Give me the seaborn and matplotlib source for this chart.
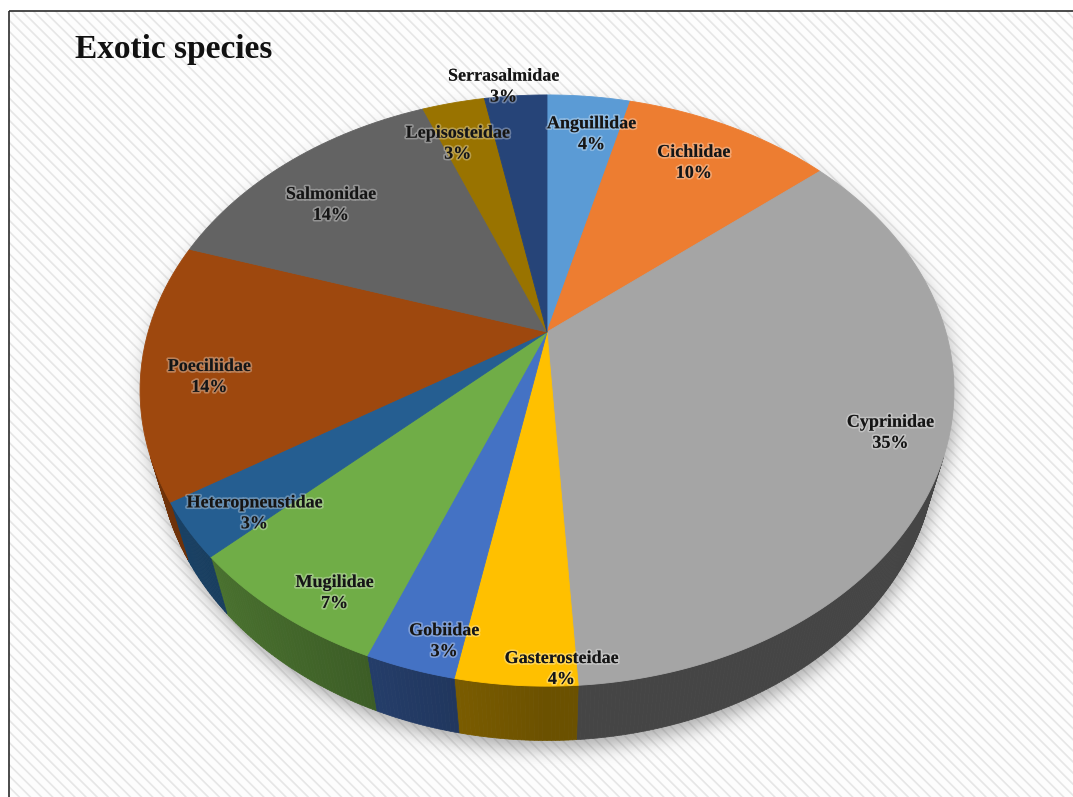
import numpy as np
import matplotlib
matplotlib.use("Agg")
import matplotlib.pyplot as plt
import seaborn as sns
from matplotlib.colors import to_rgb
from matplotlib.collections import PolyCollection
from matplotlib.patches import Polygon, Rectangle
from matplotlib.path import Path
import matplotlib.patheffects as pe

# ---- data -------------------------------------------------------------
families = ["Anguillidae", "Cichlidae", "Cyprinidae", "Gasterosteidae", "Gobiidae",
            "Mugilidae", "Heteropneustidae", "Poeciliidae", "Salmonidae",
            "Lepisosteidae", "Serrasalmidae"]
shares = [4, 10, 35, 4, 3, 7, 3, 14, 14, 3, 3]
pct_labels = [f"{v}%" for v in shares]

# ---- styling ----------------------------------------------------------
slice_colors = sns.color_palette(["#5B9BD5", "#ED7D31", "#A5A5A5", "#FFC000", "#4472C4",
                                  "#70AD47", "#255E91", "#9E480E", "#636363", "#997300",
                                  "#264478"])
# radial position of each label on the top face (fraction of the radius)
label_radius = [0.8, 0.8, 0.85, 0.93, 0.9, 0.85, 0.87, 0.85, 0.78, 0.8, 1.12]
# small pixel nudges applied after projecting the label anchor
label_nudge = [(10, -3), (-4, 0), (10, -2), (43, 14), (18, 13), (9, 29), (14, 12),
               (6, 14), (-11, 10), (-12, 1), (-9, 14)]

sns.set_theme(style="white")
plt.rcParams["font.family"] = ["Liberation Serif", "DejaVu Serif"]
plt.rcParams["hatch.linewidth"] = 1.2

W, H = 1073, 797
fig = plt.figure(figsize=(W / 100, H / 100), dpi=100)
ax = fig.add_axes([0, 0, 1, 1])

# ---- perspective camera for the 3-D pie -------------------------------
ELEV = np.deg2rad(45.4)
DIST = 3.545
FOCAL = 1414.0
CX, CY = 547.0, 332.0
THICK = 0.22
se, ce = np.sin(ELEV), np.cos(ELEV)


def project(x, y, z):
    depth = DIST + y * ce - z * se
    return CX + FOCAL * x / depth, CY - FOCAL * (y * se + z * ce) / depth


def convex_hull(points):
    pts = sorted(map(tuple, points))

    def cross(o, a, b):
        return (a[0] - o[0]) * (b[1] - o[1]) - (a[1] - o[1]) * (b[0] - o[0])

    lower, upper = [], []
    for q in pts:
        while len(lower) >= 2 and cross(lower[-2], lower[-1], q) <= 0:
            lower.pop()
        lower.append(q)
    for q in reversed(pts):
        while len(upper) >= 2 and cross(upper[-2], upper[-1], q) <= 0:
            upper.pop()
        upper.append(q)
    return np.array(lower[:-1] + upper[:-1])


# ---- background: hatched plot area with a frame -----------------------
ax.add_patch(Rectangle((8.5, 11), W, H, facecolor="#FDFDFD", edgecolor="#E6E6E6",
                       hatch="\\\\\\", linewidth=0, zorder=0))
ax.add_patch(Rectangle((8.5, 11), W, H, facecolor="none", edgecolor="#2b2b2b",
                       linewidth=1.2, zorder=6))

# ---- soft drop shadow under the pie -----------------------------------
ring = np.linspace(0, 2 * np.pi, 361)
tu, tv = project(np.sin(ring), np.cos(ring), 0)
bu, bv = project(np.sin(ring), np.cos(ring), -THICK)
outline = convex_hull(np.column_stack([np.r_[tu, bu], np.r_[tv, bv]]))
step = 2
GX, GY = np.meshgrid(np.arange(0, W, step) + 1.0, np.arange(0, H, step) + 1.0)
inside = Path(outline + np.array([3.0, 10.0])).contains_points(
    np.column_stack([GX.ravel(), GY.ravel()])).reshape(GX.shape).astype(float)
k = np.arange(-14, 15)
kern = np.exp(-0.5 * (k / 4.5) ** 2)
kern /= kern.sum()
blur = np.apply_along_axis(lambda r: np.convolve(r, kern, mode="same"), 1, inside)
blur = np.apply_along_axis(lambda c: np.convolve(c, kern, mode="same"), 0, blur)
shadow = np.zeros(blur.shape + (4,))
shadow[..., :3] = 0.3
shadow[..., 3] = 0.45 * blur
ax.imshow(shadow, extent=(0, W, H, 0), interpolation="bilinear", zorder=1)

# ---- slices: top faces and the visible outer walls ---------------------
edges = np.cumsum([0] + shares) / sum(shares) * 2 * np.pi
vis_limit = -1.0 / (DIST * ce)
wall_polys, wall_cols = [], []
for i, col in enumerate(slice_colors):
    a0, a1 = edges[i], edges[i + 1]
    n = max(int(np.degrees(a1 - a0) * 2), 4)
    t = np.linspace(a0, a1, n + 1)
    u, v = project(np.sin(t), np.cos(t), 0)
    top = np.column_stack([np.r_[CX, u], np.r_[CY, v]])
    ax.add_patch(Polygon(top, closed=True, facecolor=col, edgecolor=col,
                         linewidth=0.6, zorder=3))
    ub, vb = project(np.sin(t), np.cos(t), -THICK)
    for j in range(n):
        tm = 0.5 * (t[j] + t[j + 1])
        if np.cos(tm) < vis_limit:
            wall_polys.append([(u[j], v[j]), (u[j + 1], v[j + 1]),
                               (ub[j + 1], vb[j + 1]), (ub[j], vb[j])])
            shade = 0.42 + 0.32 * max(0.0, -np.sin(tm))
            wall_cols.append(np.array(to_rgb(col)) * shade)
ax.add_collection(PolyCollection(wall_polys, facecolors=wall_cols,
                                 edgecolors=wall_cols, linewidths=0.5, zorder=2))

# ---- data labels -------------------------------------------------------
for i in range(len(shares)):
    tm = 0.5 * (edges[i] + edges[i + 1])
    r = label_radius[i]
    lx, ly = project(r * np.sin(tm), r * np.cos(tm), 0)
    dx, dy = label_nudge[i]
    ax.text(lx + dx, ly + dy, f"{families[i]}\n{pct_labels[i]}", ha="center",
            va="center", fontsize=13, fontweight="bold", color="#151515",
            linespacing=1.3, zorder=5,
            path_effects=[pe.withStroke(linewidth=2.5, foreground=(1, 1, 1, 0.3))])

ax.text(75, 58, "Exotic species", ha="left", va="baseline", fontsize=24,
        fontweight="bold", color="#111111", zorder=5)

ax.set_xlim(0, W)
ax.set_ylim(H, 0)
ax.set_aspect("auto")
ax.set_axis_off()
fig.savefig("out.png", dpi=100)
